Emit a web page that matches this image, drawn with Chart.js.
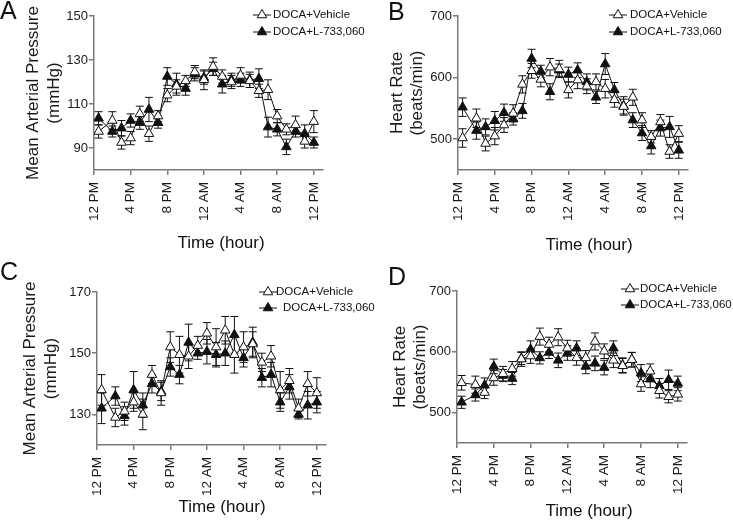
<!DOCTYPE html>
<html>
<head>
<meta charset="utf-8">
<script src="https://cdn.jsdelivr.net/npm/chart.js@4.4.1/dist/chart.umd.min.js"></script>
<style>
  body { margin: 0; background: #fff; }
  #wrap { position: relative; width: 733px; height: 528px; overflow: hidden; background: #fff; }
  canvas { position: absolute; }
</style>
</head>
<body>
<div id="wrap">
  <canvas id="chartA" width="385" height="260" style="left:0;top:0"></canvas>
  <canvas id="chartB" width="368" height="260" style="left:365px;top:0"></canvas>
  <canvas id="chartC" width="385" height="268" style="left:0;top:260px"></canvas>
  <canvas id="chartD" width="368" height="268" style="left:365px;top:260px"></canvas>
</div>
<script>
// hours after 12 PM (first reading sits just after noon)
const hours = [0.5, 2, 3, 4, 5, 6, 7, 8, 9, 10, 11, 12, 13, 14, 15, 16, 17, 18, 19, 20, 21, 22, 23, 24];
const tickHours = [0, 4, 8, 12, 16, 20, 24];
const tickLabels = ['12 PM', '4 PM', '8 PM', '12 AM', '4 AM', '8 AM', '12 PM'];
const seriesNames = ['DOCA+Vehicle', 'DOCA+L-733,060'];

// A - mean arterial pressure
const mapVehA = [97.5, 102.5, 92.5, 94.5, 105.5, 96.5, 104.5, 114, 118, 120.5, 124.5, 121, 127, 122.5, 120, 123, 120.5, 116, 116.5, 104.5, 98.5, 100.5, 93, 102];
const mapVehSemA = [3, 4, 3, 3, 3.5, 3.5, 2.5, 3, 3, 2.5, 3, 4.5, 4, 3, 3, 3.5, 3, 3, 4.5, 3, 2.5, 4, 3, 5];
const mapDrugA = [103.5, 97.5, 99, 102.5, 101.5, 107.5, 101.5, 122.5, 119, 117, 123.5, 122, 126, 119, 121, 121, 121, 121.5, 99.5, 98.5, 90.5, 97.5, 96.5, 92.5];
const mapDrugSemA = [3, 2.5, 3.5, 3, 3, 5.5, 2.5, 4, 5, 3, 3, 3, 3, 4, 3, 3, 3.5, 4.5, 4.5, 3, 3.5, 2.5, 4, 2.5];

// B - heart rate
const hrVehB = [502, 534, 493, 505, 523, 542, 589, 611, 597, 617, 614, 580, 596, 586, 593, 582, 564, 553, 568, 531, 504, 528, 480, 509];
const hrVehSemB = [15, 15, 12, 14, 12, 14, 14, 12, 12, 14, 14, 13, 14, 12, 13, 15, 12, 12, 13, 12, 10, 12, 11, 13];
const hrDrugB = [552, 514, 520, 530, 543, 533, 546, 631, 610, 577, 612, 605, 612, 593, 568, 622, 580, 554, 531, 510, 489, 518, 520, 482];
const hrDrugSemB = [15, 14, 13, 15, 14, 10, 12, 15, 10, 13, 10, 12, 12, 13, 10, 17, 12, 15, 12, 12, 13, 13, 17, 13];

// C - mean arterial pressure
const mapVehC = [138, 129, 131, 134, 130, 143, 137, 152, 149.5, 149, 152.5, 156.5, 152, 157.5, 149.5, 152, 153, 147, 149, 138, 141, 132, 140, 137];
const mapVehSemC = [5, 3, 3, 3, 5, 3, 4, 5, 6, 4, 3, 3.5, 6, 4.5, 6, 5, 4, 3, 3.5, 6, 4, 3, 4, 5];
const mapDrugC = [132, 136, 129.5, 138, 133, 140, 137.5, 145.5, 143, 153.5, 150, 150.5, 149.5, 150, 156, 148.5, 153.5, 142, 143, 134, 139, 130, 133, 134];
const mapDrugSemC = [5, 3, 3, 6, 4, 3, 3, 3, 3, 6, 2, 4, 4, 4, 6, 3, 5, 3, 4, 3, 4, 1.5, 4.5, 3.5];

// D - heart rate
const hrVehD = [549, 546, 533, 557, 564, 572, 588, 593, 625, 612, 624, 606, 590, 590, 617, 601, 586, 577, 587, 547, 568, 536, 526, 530];
const hrVehSemD = [12, 14, 10, 12, 12, 12, 12, 12, 14, 12, 14, 13, 12, 12, 14, 12, 12, 12, 12, 12, 12, 12, 10, 11];
const hrDrugD = [517, 529, 545, 576, 561, 556, 589, 604, 590, 599, 586, 598, 606, 576, 581, 574, 606, 578, 587, 565, 555, 544, 554, 548];
const hrDrugSemD = [10, 10, 12, 12, 10, 10, 10, 14, 10, 10, 12, 12, 12, 12, 12, 12, 12, 12, 12, 14, 14, 12, 16, 12];

Chart.defaults.font.family = '"Liberation Sans", Arial, sans-serif';
Chart.defaults.color = '#1a1a1a';

const AXIS = '#7a7a7a';
const INK = '#111';

function triangle(ctx, x, y, r, fill) {
    ctx.beginPath();
    ctx.moveTo(x, y - r);
    ctx.lineTo(x + 0.866 * r, y + 0.5 * r);
    ctx.lineTo(x - 0.866 * r, y + 0.5 * r);
    ctx.closePath();
    ctx.fillStyle = fill;
    ctx.fill();
    ctx.strokeStyle = INK;
    ctx.lineWidth = 1;
    ctx.stroke();
}

const errorBars = {
    id: 'errorBars',
    beforeDatasetsDraw(chart) {
        const { ctx, scales: { x, y } } = chart;
        ctx.save();
        ctx.strokeStyle = INK;
        ctx.lineWidth = 1;
        chart.data.datasets.forEach(ds => {
            ds.data.forEach((p, i) => {
                const px = x.getPixelForValue(p.x);
                const top = y.getPixelForValue(p.y + ds.sem[i]);
                const bot = y.getPixelForValue(p.y - ds.sem[i]);
                ctx.beginPath();
                ctx.moveTo(px, top); ctx.lineTo(px, bot);
                ctx.moveTo(px - 4, top); ctx.lineTo(px + 4, top);
                ctx.moveTo(px - 4, bot); ctx.lineTo(px + 4, bot);
                ctx.stroke();
            });
        });
        ctx.restore();
    }
};

// panel letter, in-plot legend and x title
const panelDeco = {
    id: 'panelDeco',
    afterDraw(chart, args, o) {
        const ctx = chart.ctx;
        ctx.save();
        ctx.fillStyle = INK;
        ctx.font = '25px "Liberation Sans", Arial, sans-serif';
        ctx.textAlign = 'left';
        ctx.textBaseline = 'alphabetic';
        ctx.fillText(o.letter, o.letterX, o.letterY);

        ctx.font = '11.5px "Liberation Sans", Arial, sans-serif';
        ctx.textBaseline = 'middle';
        seriesNames.forEach((name, i) => {
            const ly = o.legendRows[i];
            ctx.strokeStyle = INK;
            ctx.lineWidth = 1;
            ctx.beginPath();
            ctx.moveTo(o.legendX - 9, ly);
            ctx.lineTo(o.legendX + 9, ly);
            ctx.stroke();
            triangle(ctx, o.legendX, ly, 5.5, i === 0 ? '#fff' : INK);
            ctx.fillStyle = INK;
            ctx.fillText(name, o.legendText[i], ly);
        });

        ctx.font = '17px "Liberation Sans", Arial, sans-serif';
        ctx.textAlign = 'center';
        ctx.fillText('Time (hour)', o.xTitleX, o.xTitleY);
        ctx.restore();
    }
};

function makeChart(id, p) {
    const pts = vals => hours.map((h, i) => ({ x: h, y: vals[i] }));
    return new Chart(document.getElementById(id), {
        type: 'line',
        data: {
            datasets: [{
                label: seriesNames[0],
                data: pts(p.veh),
                sem: p.vehSem,
                borderColor: INK,
                borderWidth: 1,
                pointStyle: 'triangle',
                pointRadius: 5.5,
                pointBackgroundColor: '#fff',
                pointBorderColor: INK,
                pointBorderWidth: 1
            }, {
                label: seriesNames[1],
                data: pts(p.drug),
                sem: p.drugSem,
                borderColor: INK,
                borderWidth: 1,
                pointStyle: 'triangle',
                pointRadius: 5.5,
                pointBackgroundColor: INK,
                pointBorderColor: INK,
                pointBorderWidth: 1
            }]
        },
        options: {
            responsive: false,
            animation: false,
            layout: { padding: { left: 0, top: p.padTop, right: p.padRight, bottom: 0 } },
            scales: {
                x: {
                    type: 'linear',
                    min: 0,
                    max: 25,
                    afterBuildTicks: s => { s.ticks = tickHours.map(v => ({ value: v })); },
                    afterFit: s => { s.height = p.xHeight; },
                    ticks: {
                        autoSkip: false,
                        minRotation: 90,
                        maxRotation: 90,
                        padding: 7,
                        font: { size: 13.5 },
                        callback: v => tickLabels[tickHours.indexOf(v)]
                    },
                    grid: { drawOnChartArea: false, drawTicks: true, tickLength: 5, color: AXIS, lineWidth: 1.5 },
                    border: { display: true, color: AXIS, width: 1.5 }
                },
                y: {
                    type: 'linear',
                    min: p.yMin,
                    max: p.yMax,
                    afterBuildTicks: s => { s.ticks = p.yTicks.map(v => ({ value: v })); },
                    afterFit: s => { s.width = p.yWidth; },
                    ticks: { padding: 1, font: { size: 13 } },
                    grid: { drawOnChartArea: false, drawTicks: true, tickLength: 5, color: AXIS, lineWidth: 1.5 },
                    border: { display: true, color: AXIS, width: 1.5 },
                    title: {
                        display: true,
                        text: p.yTitle,
                        font: { size: 17 },
                        padding: { top: p.yTitlePad, bottom: 0 }
                    }
                }
            },
            plugins: {
                legend: { display: false },
                tooltip: { enabled: false },
                panelDeco: p.deco
            }
        },
        plugins: [errorBars, panelDeco]
    });
}

const mapTitle = ['Mean Arterial Pressure', '(mmHg)'];
const hrTitle = ['Heart Rate', '(beats/min)'];

makeChart('chartA', {
    veh: mapVehA, vehSem: mapVehSemA, drug: mapDrugA, drugSem: mapDrugSemA,
    yMin: 80, yMax: 150, yTicks: [90, 110, 130, 150], yTitle: mapTitle,
    padTop: 16, padRight: 62, yWidth: 94, xHeight: 90, yTitlePad: 23.5,
    deco: { letter: 'A', letterX: 0, letterY: 19, legendX: 262, legendRows: [15, 32], legendText: [273, 273], xTitleX: 221, xTitleY: 243 }
});

makeChart('chartB', {
    veh: hrVehB, vehSem: hrVehSemB, drug: hrDrugB, drugSem: hrDrugSemB,
    yMin: 450, yMax: 700, yTicks: [500, 600, 700], yTitle: hrTitle,
    padTop: 16, padRight: 45, yWidth: 93, xHeight: 90, yTitlePad: 22,
    deco: { letter: 'B', letterX: 23, letterY: 20, legendX: 253, legendRows: [15, 32], legendText: [265, 265], xTitleX: 224, xTitleY: 245 }
});

makeChart('chartC', {
    veh: mapVehC, vehSem: mapVehSemC, drug: mapDrugC, drugSem: mapDrugSemC,
    yMin: 120, yMax: 170, yTicks: [130, 150, 170], yTitle: mapTitle,
    padTop: 32, padRight: 59, yWidth: 97, xHeight: 83, yTitlePad: 20.5,
    deco: { letter: 'C', letterX: 0, letterY: 20, legendX: 268, legendRows: [32, 48], legendText: [276, 283], xTitleX: 222, xTitleY: 247 }
});

makeChart('chartD', {
    veh: hrVehD, vehSem: hrVehSemD, drug: hrDrugD, drugSem: hrDrugSemD,
    yMin: 450, yMax: 700, yTicks: [500, 600, 700], yTitle: hrTitle,
    padTop: 31, padRight: 46, yWidth: 92, xHeight: 85, yTitlePad: 25,
    deco: { letter: 'D', letterX: 23, letterY: 25, legendX: 265, legendRows: [29, 45], legendText: [275, 275], xTitleX: 224, xTitleY: 251 }
});
</script>
</body>
</html>
